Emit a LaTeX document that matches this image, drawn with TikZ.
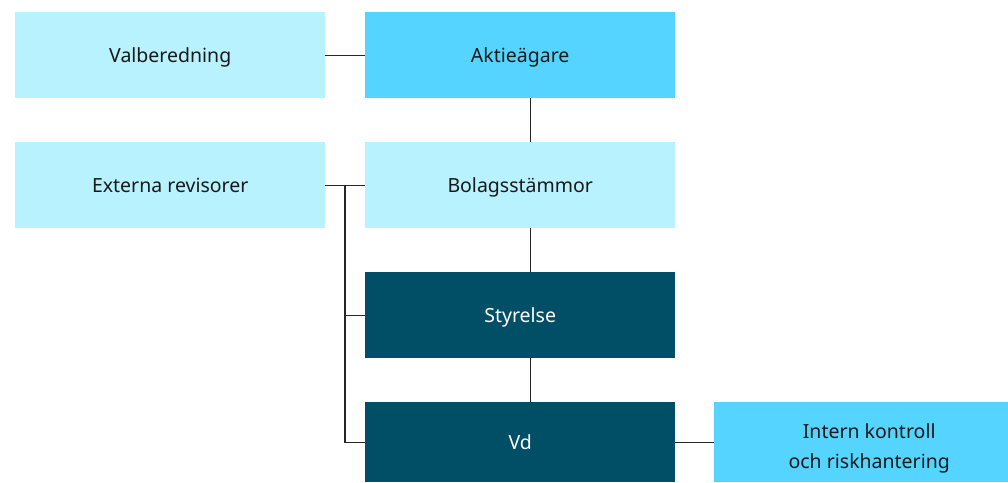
\documentclass[tikz,border=0pt]{standalone}
\usepackage{fontspec}
\setmainfont{Noto Sans}
\definecolor{lightc}{HTML}{B8F2FF}
\definecolor{midc}{HTML}{55D4FF}
\definecolor{darkc}{HTML}{004F66}
\newcommand{\boxlbl}[1]{\raisebox{-7.5pt}[0pt][0pt]{#1}}
\newcommand{\twolbl}[2]{\hspace*{16pt}\raisebox{-10pt}[0pt][0pt]{\begin{tabular}{@{}c@{}}#1\\#2\end{tabular}}}
\begin{document}
\begin{tikzpicture}[x=1pt,y=-1pt,
  box/.style={minimum width=310pt,minimum height=86pt,inner sep=0pt,anchor=north west,font=\fontsize{19.5}{30}\selectfont,text=black!90,align=center},
  lbox/.style={box,fill=lightc},
  mbox/.style={box,fill=midc},
  dbox/.style={box,fill=darkc,text=white},
  conn/.style={draw=black!85,line width=1.4pt}]
\useasboundingbox (0,0) rectangle (1008,482);
\node[lbox] (val) at (15,12) {\boxlbl{Valberedning}};
\node[mbox] (akt) at (365,12) {\boxlbl{Aktieägare}};
\node[lbox] (ext) at (15,142) {\boxlbl{Externa revisorer}};
\node[lbox] (bol) at (365,142) {\boxlbl{Bolagsstämmor}};
\node[dbox] (sty) at (365,272) {\boxlbl{Styrelse}};
\node[dbox,minimum height=80pt] (vd) at (365,402) {\boxlbl{Vd}};
\node[mbox,minimum width=294pt,minimum height=80pt] (int) at (714,402) {\twolbl{Intern kontroll}{och riskhantering}};
\coordinate (j) at (345,185);
\draw[conn] (val.east) -- (akt.west);
\draw[conn] ([xshift=10pt]akt.south) -- ([xshift=10pt]bol.north);
\draw[conn] ([xshift=10pt]bol.south) -- ([xshift=10pt]sty.north);
\draw[conn] ([xshift=10pt]sty.south) -- ([xshift=10pt]vd.north);
\draw[conn] (vd.east) -- (int.west);
\draw[conn] (ext.east) -- (bol.west);
\draw[conn] (j) |- (vd.west);
\draw[conn] (j |- sty.west) -- (sty.west);
\end{tikzpicture}
\end{document}
